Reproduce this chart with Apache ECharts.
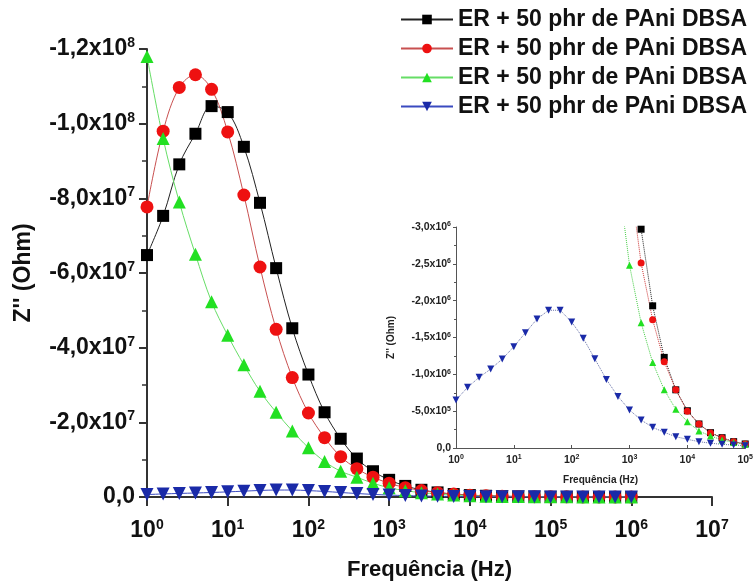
<!DOCTYPE html>
<html>
<head>
<meta charset="utf-8">
<script src="https://cdn.jsdelivr.net/npm/echarts@6/dist/echarts.min.js"></script>
<style>
html,body{margin:0;padding:0;background:#fff;}
#chart{width:756px;height:586px;}
</style>
</head>
<body>
<div id="chart"></div>
<script>
// Frequency (Hz)
var freq = [1, 1.585, 2.512, 3.981, 6.31, 10, 15.85, 25.12, 39.81, 63.1,
  100, 158.5, 251.2, 398.1, 631, 1000, 1585, 2512, 3981, 6310,
  10000, 15850, 25120, 39810, 63100, 100000, 158500, 251200, 398100, 631000, 1000000];
// Z'' (Ohm) for each sample
var zBlack = [-6.48e7, -7.53e7, -8.91e7, -9.73e7, -1.047e8, -1.031e8, -9.38e7, -7.88e7, -6.13e7, -4.52e7,
  -3.28e7, -2.27e7, -1.56e7, -1.03e7, -6.9e6, -4.6e6, -2.97e6, -1.93e6, -1.23e6, -7.9e5,
  -5.06e5, -3.26e5, -2.08e5, -1.4e5, -8.6e4, -5.5e4, -3.6e4, -2.4e4, -1.6e4, -1.1e4, -8e3];
var zRed = [-7.77e7, -9.8e7, -1.097e8, -1.131e8, -1.092e8, -9.78e7, -8.09e7, -6.16e7, -4.49e7, -3.2e7,
  -2.25e7, -1.59e7, -1.08e7, -7.6e6, -5.3e6, -3.7e6, -2.51e6, -1.74e6, -1.17e6, -7.9e5,
  -5.0e5, -3.25e5, -2.05e5, -1.35e5, -8.4e4, -5.3e4, -3.5e4, -2.3e4, -1.5e4, -1.0e4, -7e3];
var zGreen = [-1.18e8, -9.6e7, -7.9e7, -6.5e7, -5.23e7, -4.33e7, -3.54e7, -2.83e7, -2.27e7, -1.77e7,
  -1.32e7, -9.5e6, -6.9e6, -5.3e6, -3.7e6, -2.48e6, -1.70e6, -1.16e6, -7.9e5, -5.25e5,
  -3.57e5, -2.3e5, -1.63e5, -1.1e5, -7.5e4, -5e4, -3.4e4, -2.3e4, -1.6e4, -1.1e4, -8e3];
var zBlue = [-6.51e5, -8.23e5, -9.59e5, -1.072e6, -1.208e6, -1.375e6, -1.565e6, -1.75e6, -1.87e6, -1.87e6,
  -1.71e6, -1.49e6, -1.21e6, -9.3e5, -7.0e5, -5.16e5, -3.8e5, -2.8e5, -2.13e5, -1.53e5,
  -1.18e5, -8.6e4, -6.5e4, -5.0e4, -4.0e4, -3.2e4, -2.6e4, -2.1e4, -1.7e4, -1.4e4, -1.2e4];
var legendLabels = ['ER + 50 phr de PAni DBSA', 'ER + 50 phr de PAni DBSA', 'ER + 50 phr de PAni DBSA', 'ER + 50 phr de PAni DBSA'];
var seriesKeys = ['s1', 's2', 's3', 's4'];
var xName = 'Frequência (Hz)';
var yName = "Z'' (Ohm)";

function pairs(ys) { return freq.map(function (f, i) { return [f, ys[i]]; }); }
function logLabel(v) {
  var e = Math.round(Math.log10(v));
  return '{b|10}{s|' + e + '}';
}
function sciLabel(v) {
  if (Math.abs(v) < 1e-9) return '{b|0,0}';
  var m = Math.abs(v);
  var e = Math.floor(Math.log10(m) + 1e-9);
  var mant = (m / Math.pow(10, e)).toFixed(1).replace('.', ',');
  return '{b|-' + mant + 'x10}{s|' + e + '}';
}

var colors = ['#000000', '#ee1111', '#22e022', '#1a2aa8'];
var lineColors = ['#222222', '#c85050', '#66dd66', '#3a4ac0'];
var insetLineColors = ['#222222', '#cc3333', '#44cc44', '#6670a8'];
var symbols = ['rect', 'circle', 'triangle', 'triangle'];
var rotates = [0, 0, 0, 180];
var sizesMain = [12, 13, 13, 13];
var sizesInset = [7, 7, 7, 7];
var datasets = [zBlack, zRed, zGreen, zBlue];

var series = [];
for (var i = 0; i < 4; i++) {
  series.push({
    name: seriesKeys[i], type: 'line', xAxisIndex: 0, yAxisIndex: 0,
    data: pairs(datasets[i]), smooth: 0.35,
    symbol: symbols[i], symbolRotate: rotates[i], symbolSize: sizesMain[i],
    itemStyle: { color: colors[i] },
    lineStyle: { color: lineColors[i], width: 1 },
    clip: true
  });
}
for (var j = 0; j < 4; j++) {
  series.push({
    name: 'inset' + j, type: 'line', xAxisIndex: 1, yAxisIndex: 1,
    data: pairs(datasets[j]), smooth: false,
    symbol: symbols[j], symbolRotate: rotates[j], symbolSize: sizesInset[j],
    itemStyle: { color: colors[j] },
    lineStyle: { color: insetLineColors[j], width: 1, type: 'dotted' },
    clip: true
  });
}

var bigRich = {
  b: { fontSize: 23, fontWeight: 'bold', color: '#111', fontFamily: 'Liberation Sans', lineHeight: 26 },
  s: { fontSize: 14, fontWeight: 'bold', color: '#111', fontFamily: 'Liberation Sans', verticalAlign: 'top', lineHeight: 14 }
};
var smallRich = {
  b: { fontSize: 10.5, fontWeight: 'bold', color: '#222', fontFamily: 'Liberation Sans', lineHeight: 12 },
  s: { fontSize: 7, fontWeight: 'bold', color: '#222', fontFamily: 'Liberation Sans', verticalAlign: 'top', lineHeight: 7 }
};
var axisLineBig = { show: true, onZero: false, lineStyle: { color: '#333', width: 2 } };
var axisLineSmall = { show: true, onZero: false, lineStyle: { color: '#555', width: 1 } };

var option = {
  animation: false,
  backgroundColor: '#ffffff',
  textStyle: { fontFamily: 'Liberation Sans' },
  legend: {
    data: seriesKeys,
    orient: 'vertical',
    left: 395, top: 3,
    itemWidth: 52, itemHeight: 12, itemGap: 6,
    formatter: function (name) { return legendLabels[seriesKeys.indexOf(name)]; },
    textStyle: { fontSize: 23, fontWeight: 'bold', color: '#111', lineHeight: 23, fontFamily: 'Liberation Sans' }
  },
  grid: [
    { left: 147, top: 49, right: 44, bottom: 83 },
    { left: 456, top: 227, right: 4, bottom: 138 }
  ],
  xAxis: [
    {
      type: 'log', logBase: 10, min: 1, max: 1e7, interval: 1, gridIndex: 0,
      position: 'bottom',
      name: xName, nameLocation: 'middle', nameGap: 62,
      nameTextStyle: { fontSize: 22, fontWeight: 'bold', color: '#111', fontFamily: 'Liberation Sans' },
      axisLine: axisLineBig,
      axisTick: { show: true, length: 9, lineStyle: { color: '#333', width: 2 } },
      minorTick: { show: false },
      splitLine: { show: false },
      axisLabel: { formatter: logLabel, rich: bigRich, margin: 21 }
    },
    {
      type: 'log', logBase: 10, min: 1, max: 1e5, interval: 1, gridIndex: 1,
      position: 'bottom',
      name: xName, nameLocation: 'middle', nameGap: 27,
      nameTextStyle: { fontSize: 10, fontWeight: 'bold', color: '#222', fontFamily: 'Liberation Sans' },
      axisLine: axisLineSmall,
      axisTick: { show: true, length: 3, inside: true, lineStyle: { color: '#555' } },
      splitLine: { show: false },
      axisLabel: { formatter: logLabel, rich: smallRich, margin: 6 }
    }
  ],
  yAxis: [
    {
      type: 'value', inverse: true, min: -1.2e8, max: 0, interval: 2e7, gridIndex: 0,
      name: yName, nameLocation: 'middle', nameGap: 112, nameRotate: 90,
      nameTextStyle: { fontSize: 23, fontWeight: 'bold', color: '#111', fontFamily: 'Liberation Sans' },
      axisLine: axisLineBig,
      axisTick: { show: true, length: 8, lineStyle: { color: '#333', width: 2 } },
      minorTick: { show: true, splitNumber: 2, length: 5, lineStyle: { color: '#333', width: 1.5 } },
      splitLine: { show: false },
      axisLabel: { formatter: sciLabel, rich: bigRich, margin: 12 }
    },
    {
      type: 'value', inverse: true, min: -3e6, max: 0, interval: 5e5, gridIndex: 1,
      name: yName, nameLocation: 'middle', nameGap: 60, nameRotate: 90,
      nameTextStyle: { fontSize: 10, fontWeight: 'bold', color: '#222', fontFamily: 'Liberation Sans' },
      axisLine: axisLineSmall,
      axisTick: { show: true, length: 3, lineStyle: { color: '#555' } },
      minorTick: { show: true, splitNumber: 2, length: 2, lineStyle: { color: '#555' } },
      splitLine: { show: false },
      axisLabel: { formatter: sciLabel, rich: smallRich, margin: 5 }
    }
  ],
  series: series
};

var chart = echarts.init(document.getElementById('chart'), null, { renderer: 'canvas' });
chart.setOption(option);
</script>
</body>
</html>
